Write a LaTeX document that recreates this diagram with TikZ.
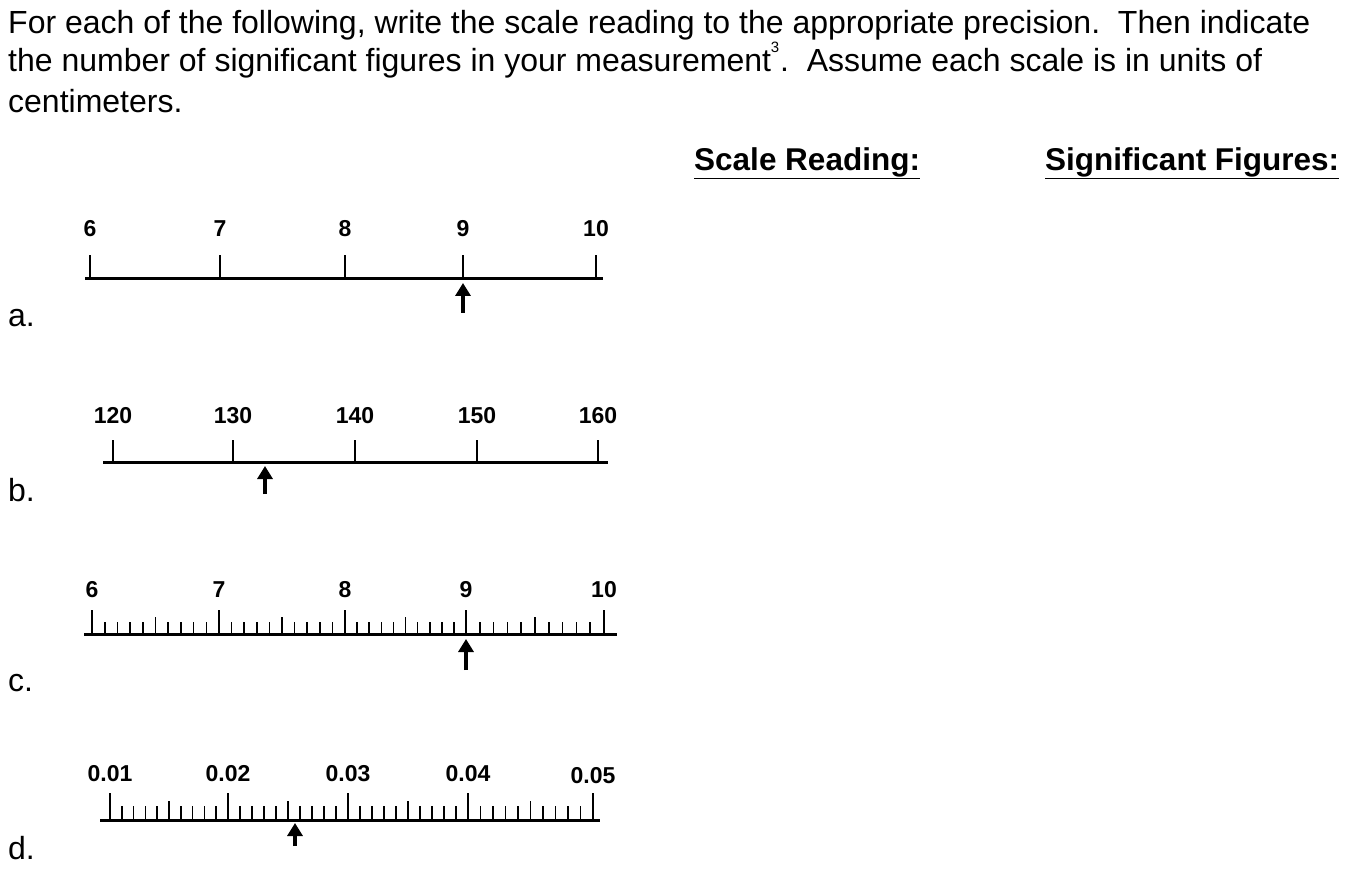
\documentclass[tikz,border=0pt]{standalone}
\usepackage{fontspec}
\setmainfont{Liberation Sans}
\usetikzlibrary{arrows.meta}
\begin{document}
\begin{tikzpicture}[x=1pt,y=-1pt,
  txt/.style={anchor=west,inner sep=0pt,font=\fontsize{32}{38}\selectfont},
  lab/.style={inner sep=0pt,font=\fontsize{23}{26}\selectfont\bfseries},
  hd/.style={anchor=west,inner sep=0pt,font=\fontsize{31.5}{36}\selectfont\bfseries},
  bar/.style={line width=3pt},
  tk/.style={line width=2pt},
  mt/.style={line width=1.6pt},
  ptr/.style={line width=3.5pt,-{Triangle[length=13pt,width=15pt]}}]
\useasboundingbox (0,0) rectangle (1370,882);
\node[txt] (l1) at (8,25) {For each of the following, write the scale reading to the appropriate precision.\ \ Then indicate};
\node[txt] (l2) at (8,63) {the number of significant figures in your measurement\hspace{9pt}.\ \ Assume each scale is in units of};
\node[txt] (l3) at (8,101) {centimeters.};
\node[inner sep=0pt,font=\fontsize{15}{16}\selectfont] (fn) at (775,47) {3};
\node[hd] (h1) at (694,163) {\underline{Scale Reading:}};
\node[hd] (h2) at (1045,163) {\underline{Significant Figures:}};
\node[txt] (la) at (8,318) {a.};
\node[txt] (lb) at (8,490) {b.};
\node[txt] (lc) at (8,683) {c.};
\node[txt] (ld) at (8,848) {d.};
% a
\draw[bar] (85,279) -- (603,279);
\foreach \x/\t in {90/6,220/7,345/8,463/9,596/10}{
  \draw[tk] (\x,279) -- (\x,255);
  \node[lab] at (\x,229) {\t};}
\coordinate (pa) at (463,313);
\draw[ptr] (pa) -- (463,283);
% b
\draw[bar] (103,462) -- (608,462);
\foreach \x/\t in {113/120,233/130,355/140,477/150,598/160}{
  \draw[tk] (\x,462) -- (\x,440);
  \node[lab] at (\x,416) {\t};}
\coordinate (pb) at (265,494);
\draw[ptr] (pb) -- (265,466);
% c
\draw[bar] (84,634) -- (617,634);
\foreach \a/\b/\t [count=\i] in {92/219/6,219/345/7,345/466/8,466/604/9}{
  \draw[tk] (\a,634) -- (\a,610);
  \node[lab] at (\a,590) {\t};
  \foreach \k in {1,...,9}{
    \pgfmathsetmacro\h{\k==5 ? 617 : 622}
    \draw[mt] ({\a+(\b-\a)*\k/10},634) -- ({\a+(\b-\a)*\k/10},\h);}}
\draw[tk] (604,634) -- (604,610);
\node[lab] at (604,590) {10};
\coordinate (pc) at (466,670);
\draw[ptr] (pc) -- (466,639);
% d
\draw[bar] (100,820) -- (600,820);
\foreach \a/\b/\t in {110/228/0.01,228/348/0.02,348/468/0.03,468/593/0.04}{
  \draw[tk] (\a,820) -- (\a,793);
  \node[lab] at (\a,774) {\t};
  \foreach \k in {1,...,9}{
    \pgfmathsetmacro\h{\k==5 ? 801 : 806}
    \draw[mt] ({\a+(\b-\a)*\k/10},820) -- ({\a+(\b-\a)*\k/10},\h);}}
\draw[tk] (593,820) -- (593,793);
\node[lab] at (593,776) {0.05};
\coordinate (pd) at (295,846);
\draw[ptr] (pd) -- (295,823);
\end{tikzpicture}
\end{document}
